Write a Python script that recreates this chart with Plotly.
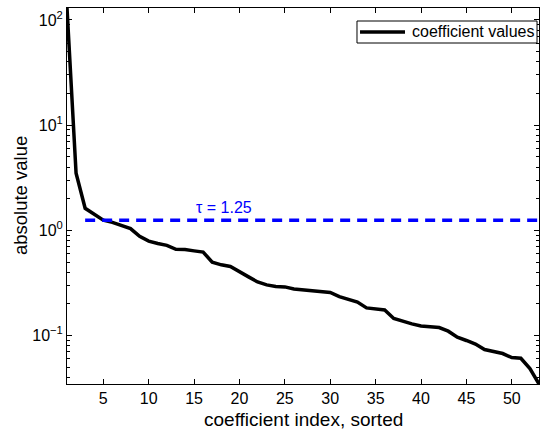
import plotly.graph_objects as go
import numpy as np

# Sorted absolute coefficient values (index 1..53)
coef_index = list(range(1, 54))
coef_values = [130, 3.49, 1.62, 1.42, 1.25, 1.19, 1.12, 1.04, 0.877, 0.79,
               0.75, 0.72, 0.66, 0.656, 0.638, 0.621, 0.499, 0.47, 0.454, 0.401,
               0.361, 0.323, 0.303, 0.293, 0.29, 0.277, 0.271, 0.268, 0.263, 0.257,
               0.234, 0.22, 0.208, 0.183, 0.179, 0.175, 0.145, 0.136, 0.129, 0.123,
               0.122, 0.119, 0.110, 0.0964, 0.0897, 0.083, 0.0735, 0.0706, 0.0674, 0.0617,
               0.0608, 0.0485, 0.0346]

tau = 1.25
tau_x = [3, 53]
tau_label = "τ = 1.25"
legend_label = "coefficient values"

x_ticks = [5, 10, 15, 20, 25, 30, 35, 40, 45, 50]
y_ticks = [0.1, 1, 10, 100]
y_ticktext = ["10<sup>−1</sup>", "10<sup>0</sup>", "10<sup>1</sup>", "10<sup>2</sup>"]
y_minor = [m * 10.0 ** d for d in range(-2, 3) for m in range(2, 10)]

FONT = "Liberation Sans, Arial, Helvetica, sans-serif"

fig = go.Figure()
fig.add_trace(go.Scatter(
    x=coef_index, y=coef_values, mode="lines",
    line=dict(color="black", width=3.5),
    name=legend_label, showlegend=False,
))
fig.add_trace(go.Scatter(
    x=tau_x, y=[tau, tau], mode="lines",
    line=dict(color="#0000ff", width=3.5, dash="10px,7px"),
    showlegend=False,
))

fig.add_annotation(
    x=15, y=np.log10(1.65), xref="x", yref="y", text=tau_label,
    showarrow=False, xanchor="left", yanchor="middle",
    font=dict(family=FONT, size=16, color="#0000ff"),
)

# axis titles
fig.add_annotation(
    x=0.5, y=-0.0957, xref="paper", yref="paper", text="coefficient index, sorted",
    showarrow=False, xanchor="center", yanchor="middle",
    font=dict(family=FONT, size=19, color="black"),
)
fig.add_annotation(
    x=-0.0994, y=0.5, xref="paper", yref="paper", text="absolute value",
    showarrow=False, xanchor="center", yanchor="middle", textangle=-90,
    font=dict(family=FONT, size=18.5, color="black"),
)

# boxed legend in the upper right corner
fig.add_shape(type="rect", xref="paper", yref="paper",
              x0=0.6144, x1=0.9958, y0=0.9069, y1=0.9654,
              line=dict(color="black", width=1), fillcolor="white", layer="above")
fig.add_shape(type="line", xref="paper", yref="paper",
              x0=0.6208, x1=0.7161, y0=0.9362, y1=0.9362,
              line=dict(color="black", width=3.5), layer="above")
fig.add_annotation(
    x=0.7267, y=0.9362, xref="paper", yref="paper", text=legend_label,
    showarrow=False, xanchor="left", yanchor="middle",
    font=dict(family=FONT, size=16, color="black"),
)

axis_common = dict(
    showline=True, linecolor="black", linewidth=1, mirror="ticks",
    ticks="inside", tickcolor="black", ticklen=5, tickwidth=1,
    showgrid=False, zeroline=False,
    tickfont=dict(family=FONT, size=16, color="black"),
)

fig.update_xaxes(
    range=[1, 53], tickmode="array", tickvals=x_ticks, **axis_common,
)
fig.update_yaxes(
    type="log",
    range=[np.log10(min(coef_values)), np.log10(max(coef_values))],
    tickmode="array", tickvals=y_ticks, ticktext=y_ticktext,
    minor=dict(ticks="inside", ticklen=3, tickcolor="black", tickwidth=1,
               tickmode="array", tickvals=y_minor, showgrid=False),
    **axis_common,
)

fig.update_layout(
    width=540, height=429,
    margin=dict(l=67, r=1, t=8, b=45),
    plot_bgcolor="white", paper_bgcolor="white",
    font=dict(family=FONT, size=16, color="black"),
    showlegend=False,
)

fig.write_html("out.html")
